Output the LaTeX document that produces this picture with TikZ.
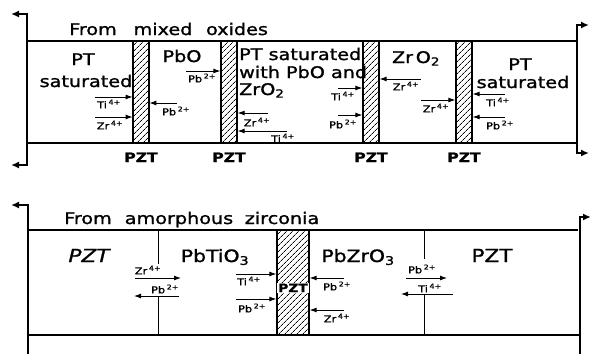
\documentclass[tikz,border=0pt]{standalone}
\usepackage{fontspec}
\setmainfont[FakeStretch=1.2,FakeBold=1.3]{DejaVu Sans}
\usetikzlibrary{arrows.meta,patterns.meta}
\newcommand{\myion}[2]{#1\,\textsuperscript{#2}}
\begin{document}
\begin{tikzpicture}[x=1pt,y=-1pt,
  frame/.style={line width=1.8pt},
  thinln/.style={line width=0.8pt},
  ar/.style={-{Latex[length=7pt,width=5pt]}, line width=0.9pt},
  endarr/.style={{Latex[length=8pt,width=7pt]}-{Latex[length=8pt,width=7pt]}, line width=1.6pt},
  band/.style={draw, line width=1.3pt, inner sep=0pt, minimum width=16pt, minimum height=102pt,
    pattern={Lines[angle=45,distance=4pt,line width=0.7pt]}},
  bandb/.style={band, minimum width=32pt, minimum height=105pt},
  big/.style={font=\fontsize{16}{17}\selectfont, inner sep=0pt, anchor=base},
  ionl/.style={font=\fontsize{9.5}{10}\selectfont, inner sep=0pt},
  pzt/.style={font=\bfseries\fontsize{13}{14}\selectfont, inner sep=0pt, anchor=base}]
\useasboundingbox (0,0) rectangle (590,354);

% ---------------- top panel ----------------
\draw[frame] (27,41) -- (577,41);
\draw[frame] (27,143) -- (577,143);
\draw[endarr] (11,14) -- (27,14) -- (27,165) -- (11,165);
\draw[endarr] (589,25) -- (577,25) -- (577,153) -- (589,153);

\node[band] (b1) at (141,92) {};
\node[band] (b2) at (229,92) {};
\node[band] (b3) at (371,92) {};
\node[band] (b4) at (464,92) {};

\node[big] (w1) at (93,35) {From};
\node[big] (w2) at (163,35) {mixed};
\node[big] (w3) at (237,35) {oxides};

\node[big] (l1) at (83,65) {PT};
\node[big] (l2) at (86,87) {saturated};
\node[big] (l3) at (182,62) {PbO};
\node[big, anchor=base west] (l4) at (239,60) {PT saturated};
\node[big, anchor=base west] (l5) at (239,78) {with PbO and};
\node[big, anchor=base west] (l6) at (239,95) {ZrO\textsubscript{2}};
\node[big] (l7) at (416,63) {Zr\,O\textsubscript{2}};
\node[big] (l8) at (520,70) {PT};
\node[big] (l9) at (523,88) {saturated};

\node[pzt] (p1) at (141,162) {PZT};
\node[pzt] (p2) at (229,162) {PZT};
\node[pzt] (p3) at (371,162) {PZT};
\node[pzt] (p4) at (464,162) {PZT};

\draw[ar] (95,97) -- (b1.west |- 0,97);
\node[ionl] (i1) at (109,104) {\myion{Ti}{4+}};
\draw[ar] (95,117) -- (b1.west |- 0,117);
\node[ionl] (i2) at (110,125) {\myion{Zr}{4+}};
\draw[ar] (177,103) -- (b1.east |- 0,103);
\node[ionl] (i3) at (176,111) {\myion{Pb}{2+}};
\draw[ar] (186,71) -- (b2.west |- 0,71);
\node[ionl] (i4) at (202,78) {\myion{Pb}{2+}};
\draw[ar] (268,113) -- (b2.east |- 0,113);
\node[ionl] (i5) at (257,122) {\myion{Zr}{4+}};
\draw[ar] (287,131) -- (b2.east |- 0,131);
\node[ionl] (i6) at (283,138) {\myion{Ti}{4+}};
\draw[ar] (338,88) -- (b3.west |- 0,88);
\node[ionl] (i7) at (343,96) {\myion{Ti}{4+}};
\draw[ar] (338,115) -- (b3.west |- 0,115);
\node[ionl] (i8) at (343,124) {\myion{Pb}{2+}};
\draw[ar] (421,79) -- (b3.east |- 0,79);
\node[ionl] (i9) at (406,86) {\myion{Zr}{4+}};
\draw[ar] (421,100) -- (b4.west |- 0,100);
\node[ionl] (i10) at (436,108) {\myion{Zr}{4+}};
\draw[ar] (505,94) -- (b4.east |- 0,94);
\node[ionl] (i11) at (498,102) {\myion{Ti}{4+}};
\draw[ar] (505,117) -- (b4.east |- 0,117);
\node[ionl] (i12) at (500,125) {\myion{Pb}{2+}};

% ---------------- bottom panel ----------------
\draw[frame] (28,230) -- (578,230);
\draw[frame] (28,335) -- (580,335);
\draw[frame, {Latex[length=8pt,width=7pt]}-] (11,205) -- (28,205) -- (28,356);
\draw[frame, -{Latex[length=8pt,width=7pt]}] (580,356) -- (580,217) -- (591,217);

\node[bandb] (b5) at (293,282.5) {};

\node[big] (m1) at (88,224) {From};
\node[big] (m2) at (179,224) {amorphous};
\node[big] (m3) at (282,224) {zirconia};

\node[big, font=\itshape\fontsize{18}{19}\selectfont] (n1) at (89,262) {PZT};
\node[big, font=\fontsize{17}{18}\selectfont] (n2) at (215,262) {PbTiO\textsubscript{3}};
\node[big, font=\fontsize{17}{18}\selectfont] (n3) at (358,262) {PbZrO\textsubscript{3}};
\node[big, font=\fontsize{18}{19}\selectfont] (n4) at (492,262) {PZT};
\node[pzt, fill=white, inner sep=1pt, font=\bfseries\fontsize{11.5}{13}\selectfont] (n5) at (293,292) {PZT};

\draw[thinln] (158,230) -- (158,264);
\draw[thinln] (158,296) -- (158,335);
\draw[thinln] (424,230) -- (424,259);
\draw[thinln] (424,294) -- (424,335);

\draw[ar] (135,278) -- (181,278);
\node[ionl] (j1) at (148,270) {\myion{Zr}{4+}};
\draw[ar] (179,296) -- (134,296);
\node[ionl] (j2) at (165,289) {\myion{Pb}{2+}};
\draw[ar] (236,274) -- (b5.west |- 0,274);
\node[ionl] (j3) at (249,281) {\myion{Ti}{4+}};
\draw[ar] (236,299) -- (b5.west |- 0,299);
\node[ionl] (j4) at (252,308) {\myion{Pb}{2+}};
\draw[ar] (344,278) -- (b5.east |- 0,278);
\node[ionl] (j5) at (337,286) {\myion{Pb}{2+}};
\draw[ar] (344,310) -- (b5.east |- 0,310);
\node[ionl] (j6) at (337,318) {\myion{Zr}{4+}};
\draw[ar] (406,278) -- (447,278);
\node[ionl] (j7) at (422,269) {\myion{Pb}{2+}};
\draw[ar] (453,294) -- (401,294);
\node[ionl] (j8) at (430,288) {\myion{Ti}{4+}};
\end{tikzpicture}
\end{document}
